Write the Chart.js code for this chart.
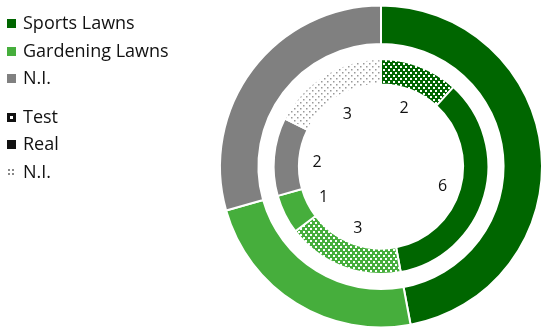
<!DOCTYPE html>
<html>
<head>
<meta charset="utf-8">
<script src="https://cdn.jsdelivr.net/npm/chart.js@4.4.1/dist/chart.umd.min.js"></script>
<style>
    html, body { margin: 0; padding: 0; background: #fff; }
    #wrap { position: relative; width: 550px; height: 336px; }
    #chart { position: absolute; left: 0; top: 0; }
    .legend { position: absolute; left: 7px; top: 9px; font-family: "Open Sans", Lato, sans-serif; font-size: 18px; color: #111; }
    .legend .item { height: 27.5px; line-height: 27.5px; white-space: nowrap; }
    .legend .gap { height: 11px; }
    .legend .sw { display: inline-block; width: 9px; height: 9px; margin-right: 7px; vertical-align: 1px; }
</style>
</head>
<body>
<div id="wrap">
    <canvas id="chart" width="550" height="336"></canvas>
    <div class="legend" id="legend"></div>
</div>
<script>
// === Data ===
const outerLabels = ["Sports Lawns", "Gardening Lawns", "N.I."];
const outerValues = [8, 4, 5];

const innerLabels = ["Sports Test", "Sports Real", "Gardening Test", "Gardening Real", "N.I. Real", "N.I. N.I."];
const innerValues = [2, 6, 3, 1, 2, 3];

const typeLabels = ["Test", "Real", "N.I."];

// === Colours ===
const DARK = "#006600";
const LIGHT = "#46ae3c";
const GRAY = "#808080";

// === Patterns (staggered dots) ===
function dotPattern(bg, dot, w, h, d) {
    const c = document.createElement("canvas");
    c.width = w;
    c.height = h;
    const x = c.getContext("2d");
    x.fillStyle = bg;
    x.fillRect(0, 0, w, h);
    x.fillStyle = dot;
    x.fillRect(0, 0, d, d);
    x.fillRect(Math.round(w / 2), h / 2, d, d);
    return x.createPattern(c, "repeat");
}

const ctx = document.getElementById("chart").getContext("2d");
const testDark = dotPattern(DARK, "#ffffff", 5, 6, 2);
const testLight = dotPattern(LIGHT, "#ffffff", 5, 6, 2);
const niPattern = dotPattern("#ffffff", "#999999", 6, 6, 1.5);

const innerColors = [testDark, DARK, testLight, LIGHT, GRAY, niPattern];

// === Labels inside the hole ===
const holeLabels = {
    id: "holeLabels",
    afterDatasetsDraw(chart) {
        const meta = chart.getDatasetMeta(2);
        const c = chart.ctx;
        c.save();
        c.font = "16px 'Open Sans', Lato, sans-serif";
        c.fillStyle = "#111";
        c.textAlign = "center";
        c.textBaseline = "middle";
        meta.data.forEach((arc, i) => {
            const p = arc.getProps(["x", "y", "startAngle", "endAngle", "innerRadius"], true);
            const mid = (p.startAngle + p.endAngle) / 2;
            const r = p.innerRadius - 18;
            c.fillText(String(innerValues[i]), p.x + Math.cos(mid) * r, p.y + Math.sin(mid) * r + 2);
        });
        c.restore();
    }
};

new Chart(ctx, {
    type: "doughnut",
    data: {
        labels: innerLabels,
        datasets: [
            {
                label: "Lawns",
                data: outerValues,
                backgroundColor: [DARK, LIGHT, GRAY],
                borderColor: "#ffffff",
                borderWidth: 2,
                weight: 38
            },
            {
                label: "gap",
                data: [1],
                backgroundColor: "rgba(0,0,0,0)",
                borderWidth: 0,
                weight: 15
            },
            {
                label: "Type",
                data: innerValues,
                backgroundColor: innerColors,
                borderColor: "#ffffff",
                borderWidth: 2,
                weight: 25
            }
        ]
    },
    options: {
        responsive: false,
        animation: false,
        cutout: "51%",
        layout: { padding: { left: 219, right: 7, top: 2, bottom: 5 } },
        plugins: {
            legend: { display: false },
            tooltip: { enabled: false }
        }
    },
    plugins: [holeLabels]
});

// === Legend (HTML) ===
const legend = document.getElementById("legend");
const outerSwatch = [DARK, LIGHT, GRAY];
const typeSwatch = [
    "background:#111 radial-gradient(circle, #fff 0 1.5px, transparent 2px) center/9px 9px no-repeat",
    "background:#111",
    "background:radial-gradient(circle, #888 0 0.8px, transparent 1.2px) 0 0/4px 4px"
];
outerLabels.forEach((lbl, i) => {
    legend.insertAdjacentHTML("beforeend",
        `<div class="item"><span class="sw" style="background:${outerSwatch[i]}"></span>${lbl}</div>`);
});
legend.insertAdjacentHTML("beforeend", `<div class="gap"></div>`);
typeLabels.forEach((lbl, i) => {
    legend.insertAdjacentHTML("beforeend",
        `<div class="item"><span class="sw" style="${typeSwatch[i]}"></span>${lbl}</div>`);
});
</script>
</body>
</html>
